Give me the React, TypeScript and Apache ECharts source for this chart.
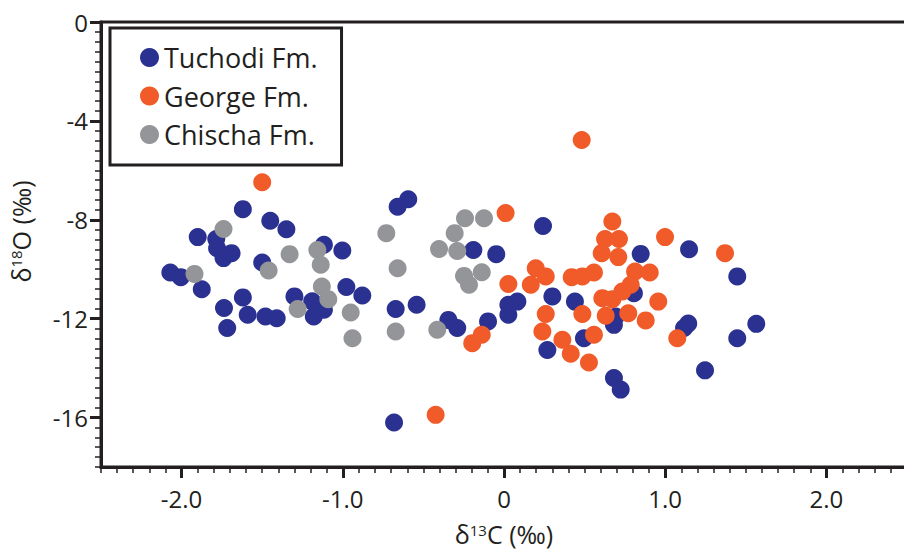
import React, { useEffect, useRef } from "react";
import * as echarts from "echarts";

const tuchodi: [number, number][] = [
  [-1.62, -7.57], [-1.45, -8.04], [-1.35, -8.38], [-1.9, -8.7], [-1.785, -8.78],
  [-1.78, -9.15], [-1.74, -9.55], [-1.69, -9.35], [-1.117, -9.01], [-1.003, -9.24],
  [-1.5, -9.73], [-2.07, -10.13], [-2.005, -10.32], [-1.875, -10.81], [-1.62, -11.14],
  [-1.737, -11.57], [-1.59, -11.84], [-1.717, -12.38], [-1.48, -11.91], [-1.41, -11.98],
  [-1.3, -11.1], [-1.19, -11.3], [-1.18, -11.91], [-1.117, -11.64], [-0.978, -10.72],
  [-0.879, -11.06], [-0.672, -11.61], [-0.66, -7.47], [-0.594, -7.17], [0.242, -8.25],
  [-0.19, -9.22], [-0.048, -9.39], [-0.542, -11.44], [-0.345, -12.05], [-0.29, -12.38],
  [-0.099, -12.11], [0.027, -11.44], [0.083, -11.31], [0.027, -11.84], [0.3, -11.1],
  [0.269, -13.27], [0.44, -11.31], [0.496, -12.79], [0.848, -9.38], [0.806, -10.97],
  [0.693, -11.91], [0.682, -12.25], [1.148, -9.19], [1.447, -10.29], [1.143, -12.2],
  [1.117, -12.38], [1.565, -12.21], [1.447, -12.79], [1.247, -14.09], [0.682, -14.4],
  [0.724, -14.87], [-0.682, -16.2],
];

const george: [number, number][] = [
  [-1.5, -6.48], [0.482, -4.77], [0.01, -7.73], [0.027, -10.6], [0.197, -9.96],
  [0.259, -10.29], [0.166, -10.63], [0.259, -11.81], [0.238, -12.52], [0.362, -12.85],
  [-0.138, -12.65], [-0.197, -12.99], [0.42, -10.32], [0.486, -10.29], [0.558, -10.13],
  [0.486, -11.81], [0.558, -12.65], [0.672, -8.07], [0.627, -8.78], [0.713, -8.78],
  [0.606, -9.35], [0.709, -9.51], [0.813, -10.09], [0.904, -10.13], [0.61, -11.17],
  [0.672, -11.21], [0.734, -10.9], [0.786, -10.63], [0.631, -11.88], [0.771, -11.78],
  [0.879, -12.07], [0.999, -8.7], [1.371, -9.35], [0.957, -11.31], [1.075, -12.79],
  [0.414, -13.42], [0.527, -13.77], [-0.424, -15.89],
];

const chischa: [number, number][] = [
  [-1.74, -8.37], [-1.33, -9.39], [-1.158, -9.22], [-1.137, -9.82], [-1.46, -10.05],
  [-1.92, -10.19], [-1.13, -10.7], [-1.09, -11.21], [-1.28, -11.61], [-0.951, -11.75],
  [-0.94, -12.79], [-0.672, -12.52], [-0.73, -8.54], [-0.66, -9.96], [-0.242, -7.94],
  [-0.124, -7.94], [-0.306, -8.54], [-0.403, -9.18], [-0.29, -9.26], [-0.138, -10.12],
  [-0.248, -10.27], [-0.217, -10.63], [-0.414, -12.45],
];

const seriesNames = ["Tuchodi Fm.", "George Fm.", "Chischa Fm."];
const xMajorTicks = [-2, -1, 0, 1, 2];
const yMajorTicks = [0, -4, -8, -12, -16];

const INK = "#231f20";
const FONT = "'Open Sans', 'Noto Sans', sans-serif";

export default function App() {
  const ref = useRef<HTMLDivElement>(null);
  useEffect(() => {
    if (!ref.current) return;
    const chart = echarts.init(ref.current, undefined, { renderer: "svg" });
    chart.setOption({
      animation: false,
      textStyle: { fontFamily: FONT, color: INK },
      grid: {
        left: 101, top: 22, width: 806, height: 445,
        outerBoundsMode: "none", containLabel: false,
        show: true, borderColor: INK, borderWidth: 3, backgroundColor: "transparent",
      },
      legend: {
        orient: "vertical", left: 110, top: 28,
        padding: [16, 24, 17, 30], itemGap: 11.5,
        itemWidth: 19, itemHeight: 19, icon: "circle",
        borderColor: INK, borderWidth: 3,
        textStyle: { fontSize: 27, color: INK, fontFamily: FONT },
        data: seriesNames,
      },
      xAxis: [
        {
          type: "value", min: -2.5, max: 2.5, interval: 0.1, position: "bottom",
          axisLine: { show: true, onZero: false, lineStyle: { color: INK, width: 3 } },
          axisTick: { show: true, length: 6, lineStyle: { color: INK, width: 1.5 } },
          axisLabel: { show: false }, splitLine: { show: false },
        },
        {
          type: "value", min: -2.5, max: 2.5, interval: 0.5, position: "bottom",
          axisLine: { show: false, onZero: false },
          axisTick: { show: true, length: 11, customValues: xMajorTicks, lineStyle: { color: INK, width: 3 } },
          axisLabel: {
            customValues: xMajorTicks, fontSize: 24, color: INK, margin: 19, fontFamily: FONT,
            formatter: (v: number) => (v === 0 ? "0" : v.toFixed(1)),
          },
          splitLine: { show: false },
          name: "{a|δ}{s|13}{a|C (‰)}", nameLocation: "middle", nameGap: 55,
          nameTextStyle: {
            fontFamily: FONT, color: INK,
            rich: {
              a: { fontSize: 25, lineHeight: 24, fontFamily: FONT, color: INK },
              s: { fontSize: 15, lineHeight: 24, fontFamily: FONT, color: INK, verticalAlign: "top" },
            },
          },
        },
      ],
      yAxis: [
        {
          type: "value", min: -18, max: 0, interval: 0.4, position: "left",
          axisLine: { show: true, onZero: false, lineStyle: { color: INK, width: 3 } },
          axisTick: { show: true, length: 6, lineStyle: { color: INK, width: 1.5 } },
          axisLabel: { show: false }, splitLine: { show: false },
        },
        {
          type: "value", min: -18, max: 0, interval: 2, position: "left",
          axisLine: { show: false, onZero: false },
          axisTick: { show: true, length: 11, customValues: yMajorTicks, lineStyle: { color: INK, width: 3 } },
          axisLabel: {
            customValues: yMajorTicks, fontSize: 24, color: INK, margin: 13, fontFamily: FONT,
            formatter: (v: number) => String(v),
          },
          splitLine: { show: false },
          name: "{a|δ}{s|18}{a|O (‰)}", nameLocation: "middle", nameGap: 68,
          nameTextStyle: {
            fontFamily: FONT, color: INK, padding: [0, 0, 0, 26],
            rich: {
              a: { fontSize: 25, fontFamily: FONT, color: INK },
              s: { fontSize: 15, fontFamily: FONT, color: INK, verticalAlign: "top" },
            },
          },
        },
      ],
      series: [
        { name: seriesNames[0], type: "scatter", data: tuchodi, symbolSize: 18, itemStyle: { color: "#2b3190", opacity: 1 } },
        { name: seriesNames[1], type: "scatter", data: george, symbolSize: 18, itemStyle: { color: "#f15a29", opacity: 1 } },
        { name: seriesNames[2], type: "scatter", data: chischa, symbolSize: 18, itemStyle: { color: "#939598", opacity: 1 } },
      ],
    });
    return () => chart.dispose();
  }, []);
  return <div ref={ref} style={{ width: 904, height: 551, position: "fixed", left: 0, top: 0, background: "#fff" }} />;
}
